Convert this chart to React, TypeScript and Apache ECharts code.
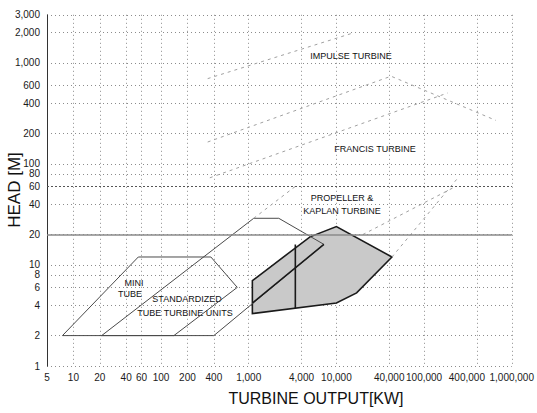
import React, { useEffect, useRef } from 'react';
import * as echarts from 'echarts';

// Axis tick values
const xTicks = [5, 10, 20, 40, 60, 100, 200, 400, 1000, 4000, 10000, 40000, 100000, 400000, 1000000];
const yTicks = [1, 2, 4, 6, 8, 10, 20, 40, 60, 80, 100, 200, 400, 600, 1000, 2000, 3000];
// Tick labelled on a second, overlay axis (keeps it from being dropped for crowding)
const xTicksOverlay = [400000];

// Mini tube range [kW], [m]
const miniTubeKW = [7.5, 55, 370, 740, 140, 7.5];
const miniTubeH = [2, 12, 12, 6, 2, 2];

// Standardized tube turbine units
const stdTubeKW = [21, 1140, 2200, 7200, 400, 21];
const stdTubeH = [2, 29, 29, 16, 2, 2];

// Bulb units outline
const bulbKW = [1100, 1100, 10000, 17000, 43000, 10000, 5000];
const bulbH = [7, 3.3, 4.2, 5.3, 12, 24, 19];

// Bulb inner strokes
const bulbDiagKW = [1100, 7200];
const bulbDiagH = [4.2, 16];
const bulbVertKW = [3400, 3400];
const bulbVertH = [16, 3.7];

// Impulse / Francis / Kaplan boundaries
const impulseUpperKW = [340, 16000];
const impulseUpperH = [700, 2000];
const impulseLowerKW = [360, 186000];
const impulseLowerH = [73, 505];
const francisUpperKW = [340, 42000, 660000];
const francisUpperH = [165, 740, 270];
const kaplanLeftKW = [1140, 3400];
const kaplanLeftH = [29, 60];
const kaplanRightKW = [43000, 250000];
const kaplanRightH = [12, 75];
const kaplanMidKW = [20000, 230000];
const kaplanMidH = [20, 60];

// Reference head lines
const headLine60 = 60;
const headLine20 = 20;

const FONT = '"Liberation Sans", Arial, sans-serif';

const pairs = (xs: number[], hs: number[]) => xs.map((x, i) => [x, hs[i]]);
const fmt = (v: number) => Math.round(v).toLocaleString('en-US');

function lineSeries(xs: number[], hs: number[], style: any, extra: any = {}) {
  return {
    type: 'line',
    data: pairs(xs, hs),
    symbol: 'none',
    showSymbol: false,
    silent: true,
    lineStyle: style,
    z: 3,
    ...extra,
  };
}

function label(text: string, x: number, y: number, size = 9, weight = 'normal', rotation = 0) {
  return {
    type: 'text',
    x,
    y,
    rotation,
    silent: true,
    style: {
      text,
      fill: '#111',
      fontSize: size,
      fontFamily: FONT,
      fontWeight: weight,
      align: 'center',
      verticalAlign: 'middle',
      textAlign: 'center',
      textVerticalAlign: 'middle',
    },
  };
}

export default function App() {
  const ref = useRef<HTMLDivElement>(null);

  useEffect(() => {
    if (!ref.current) return;
    const chart = echarts.init(ref.current, undefined, { renderer: 'svg' });
    const faint = { color: '#a0a0a0', width: 1, type: [3, 4] };
    const thin = { color: '#4a4a4a', width: 1, type: 'solid' };
    const bold = { color: '#1a1a1a', width: 1.6, type: 'solid' };

    const xLabel = {
      formatter: fmt,
      fontSize: 10,
      fontFamily: FONT,
      color: '#1a1a1a',
      margin: 6,
      hideOverlap: false,
      showMinLabel: true,
      showMaxLabel: true,
    };

    const option: any = {
      animation: false,
      backgroundColor: '#ffffff',
      grid: { left: 47, right: 22, top: 14.8, bottom: 47, containLabel: false },
      xAxis: [
        {
          type: 'log',
          logBase: 10,
          min: 5,
          max: 1000000,
          axisLine: { show: false },
          axisTick: { show: false, customValues: xTicks },
          axisLabel: { ...xLabel, customValues: xTicks.filter((v) => xTicksOverlay.indexOf(v) < 0) },
          splitLine: { show: true, lineStyle: { type: [1, 3], color: '#8c8c8c', width: 1 } },
        },
        {
          type: 'log',
          logBase: 10,
          min: 5,
          max: 1000000,
          position: 'bottom',
          axisLine: { show: false },
          axisTick: { show: false, customValues: xTicksOverlay },
          axisLabel: { ...xLabel, customValues: xTicksOverlay, padding: [0, 20, 0, 0] },
          splitLine: { show: false },
        },
      ],
      yAxis: {
        type: 'log',
        logBase: 10,
        min: 1,
        max: 3000,
        axisLine: { show: true, lineStyle: { color: '#333', width: 1 } },
        axisTick: { show: false, customValues: yTicks },
        axisLabel: {
          customValues: yTicks,
          formatter: fmt,
          fontSize: 10,
          fontFamily: FONT,
          color: '#1a1a1a',
          margin: 7,
          hideOverlap: false,
          showMinLabel: true,
          showMaxLabel: true,
        },
        splitLine: { show: true, lineStyle: { type: [1, 3], color: '#8c8c8c', width: 1 } },
      },
      series: [
        {
          type: 'custom',
          silent: true,
          z: 2,
          data: [[bulbKW[0], bulbH[0]]],
          renderItem: (_p: any, api: any) => {
            const pts = bulbKW.map((x, i) => api.coord([x, bulbH[i]]));
            return {
              type: 'polygon',
              shape: { points: pts },
              style: { fill: '#c9c9c9', stroke: '#1a1a1a', lineWidth: 1.6 },
            };
          },
        },
        lineSeries(miniTubeKW, miniTubeH, thin, {
          markLine: {
            silent: true,
            symbol: 'none',
            label: { show: false },
            data: [
              { yAxis: headLine60, lineStyle: { type: [2, 2], color: '#555', width: 1 } },
              { yAxis: headLine20, lineStyle: { type: 'solid', color: '#8a8a8a', width: 1.5 } },
            ],
          },
        }),
        lineSeries(stdTubeKW, stdTubeH, thin),
        lineSeries(bulbDiagKW, bulbDiagH, bold),
        lineSeries(bulbVertKW, bulbVertH, bold),
        lineSeries(impulseUpperKW, impulseUpperH, faint),
        lineSeries(impulseLowerKW, impulseLowerH, faint),
        lineSeries(francisUpperKW, francisUpperH, faint),
        lineSeries(kaplanLeftKW, kaplanLeftH, faint),
        lineSeries(kaplanRightKW, kaplanRightH, faint),
        lineSeries(kaplanMidKW, kaplanMidH, faint),
      ],
      graphic: [
        label('IMPULSE TURBINE', 351, 56),
        label('FRANCIS TURBINE', 375, 149),
        label('PROPELLER &', 342, 198),
        label('KAPLAN TURBINE', 342, 211),
        label('BULB', 341, 272, 9, 'bold'),
        label('UNITS', 331, 284, 9, 'bold'),
        label('MINI', 134, 283),
        label('TUBE', 130, 294),
        label('STANDARDIZED', 187, 299),
        label('TUBE TURBINE UNITS', 185, 313),
        label('TURBINE OUTPUT[KW]', 316, 398, 16),
        label('HEAD [M]', 14, 190, 17, 'normal', Math.PI / 2),
      ],
    };
    chart.setOption(option);
    return () => chart.dispose();
  }, []);

  return (
    <div
      ref={ref}
      style={{ position: 'fixed', left: 0, top: 0, width: 537, height: 413, background: '#fff' }}
    />
  );
}
